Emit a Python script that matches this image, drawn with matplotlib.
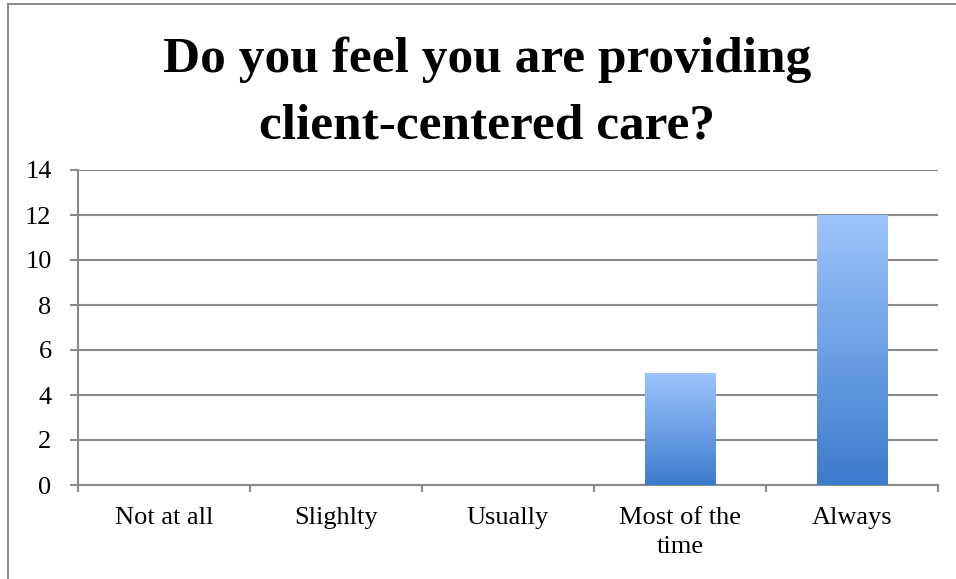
import numpy as np
import matplotlib.pyplot as plt
from matplotlib.patches import Rectangle
from matplotlib.colors import LinearSegmentedColormap

categories = ["Not at all", "Slighlty", "Usually", "Most of the\ntime", "Always"]
counts = [0, 0, 0, 5, 12]
yticks = [0, 2, 4, 6, 8, 10, 12, 14]

plt.rcParams['font.family'] = ['Liberation Serif', 'DejaVu Serif']

fig = plt.figure(figsize=(9.56, 5.79), dpi=100)
W, H = 956, 579
ax = fig.add_axes([78 / W, 1 - 485 / H, (938 - 78) / W, (485 - 170) / H])

# outer chart frame
fig.patches.append(Rectangle((8 / W, -0.05), 1.1, 1 - 4 / H + 0.05,
                             transform=fig.transFigure, fill=False,
                             edgecolor='#8c8c8c', linewidth=1.5))

x = np.arange(len(categories))
bars = ax.bar(x, counts, width=0.41, color='none', zorder=3)

grad = LinearSegmentedColormap.from_list('blu', ['#3c7ccd', '#9ec4fd'])
img = np.linspace(0, 1, 256).reshape(-1, 1)
for b, v in zip(bars, counts):
    if v <= 0:
        continue
    x0 = b.get_x()
    im = ax.imshow(img, cmap=grad, origin='lower', aspect='auto',
                   extent=[x0, x0 + b.get_width(), 0, v], zorder=3)
    im.set_clip_path(b)

ax.set_xlim(-0.5, len(categories) - 0.5)
ax.set_ylim(0, 14)
ax.set_yticks(yticks)
ax.yaxis.grid(True, color='#8a8a8a', linewidth=1.5)
ax.set_axisbelow(True)

ax.set_xticks(x)
ax.set_xticklabels(categories, fontsize=19, linespacing=1.4)
ax.tick_params(axis='x', length=0, pad=16)
ax.set_xticks(np.arange(len(categories) + 1) - 0.5, minor=True)
ax.tick_params(axis='x', which='minor', length=5, width=1.5, color='#8a8a8a')
ax.tick_params(axis='y', labelsize=19, length=6, width=1.5, color='#8a8a8a', pad=13)

for s in ['top', 'right']:
    ax.spines[s].set_visible(False)
for s in ['left', 'bottom']:
    ax.spines[s].set_color('#8a8a8a')
    ax.spines[s].set_linewidth(1.5)

fig.text(487 / W, 1 - 93 / H, "Do you feel you are providing\nclient-centered care?",
         ha='center', va='center', fontsize=37, fontweight='bold',
         linespacing=1.58)

fig.savefig('out.png', dpi=100)
